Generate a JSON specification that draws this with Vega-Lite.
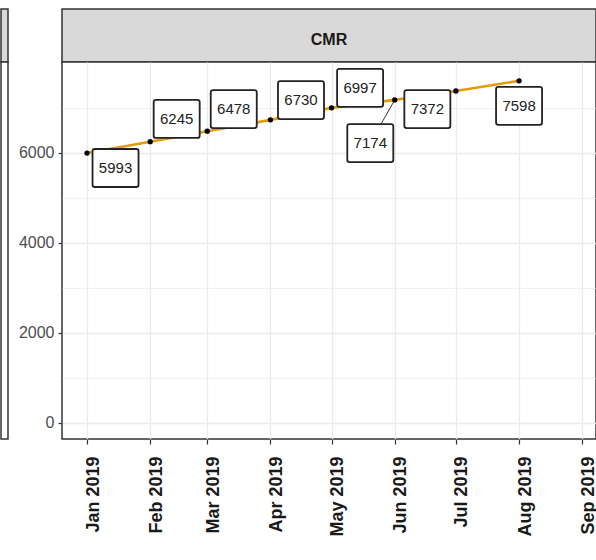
{
  "$schema": "https://vega.github.io/schema/vega-lite/v6.json",
  "padding": {"left": 0, "top": 8, "right": 0, "bottom": 0},
  "config": {
    "font": "Liberation Sans",
    "view": {"stroke": "#333333", "strokeWidth": 1.5},
    "axis": {"domain": false, "tickColor": "#333333"}
  },
  "datasets": {
    "cmr": [
      {"month": "2019-01-01", "value": 5993, "label_date": "2019-01-15", "label_value": 5660},
      {"month": "2019-02-01", "value": 6245, "label_date": "2019-02-14", "label_value": 6750},
      {"month": "2019-03-01", "value": 6478, "label_date": "2019-03-14", "label_value": 6970},
      {"month": "2019-04-01", "value": 6730, "label_date": "2019-04-16", "label_value": 7170},
      {"month": "2019-05-01", "value": 6997, "label_date": "2019-05-15", "label_value": 7440},
      {"month": "2019-06-01", "value": 7174, "label_date": "2019-05-20", "label_value": 6215},
      {"month": "2019-07-01", "value": 7372, "label_date": "2019-06-17", "label_value": 6970},
      {"month": "2019-08-01", "value": 7598, "label_date": "2019-08-01", "label_value": 7040}
    ],
    "strip": [{"panel": "CMR"}],
    "other": [{"panel": "other"}]
  },
  "bounds": "flush",
  "columns": 2,
  "spacing": {"row": 0, "column": 54},
  "concat": [
    {
      "width": 7, "height": 53,
      "data": {"name": "other"},
      "view": {"fill": "#d9d9d9", "stroke": "#333333", "strokeWidth": 1.5},
      "mark": {"type": "point", "opacity": 0},
      "encoding": {}
    },
    {
      "width": 534, "height": 53,
      "data": {"name": "strip"},
      "view": {"fill": "#d9d9d9", "stroke": "#333333", "strokeWidth": 1.5},
      "mark": {"type": "text", "fontSize": 16, "fontWeight": "bold", "color": "#1a1a1a", "dy": 4},
      "encoding": {"text": {"field": "panel", "type": "nominal"}}
    },
    {
      "width": 7, "height": 377,
      "data": {"name": "other"},
      "view": {"fill": "#ffffff", "stroke": "#333333", "strokeWidth": 1.5},
      "mark": {"type": "point", "opacity": 0},
      "encoding": {}
    },
    {
      "width": 534, "height": 377,
      "data": {"name": "cmr"},
      "view": {"fill": "#ffffff", "stroke": "#333333", "strokeWidth": 1.5},
      "layer": [
        {
          "mark": {"type": "line", "color": "#E09B0E", "strokeWidth": 2.6},
          "encoding": {
            "x": {
              "field": "month", "type": "temporal", "title": null,
              "scale": {"type": "utc", "domain": [
                {"year": 2018, "month": 12, "date": 19, "hours": 17, "minutes": 30, "utc": true},
                {"year": 2019, "month": 9, "date": 7, "hours": 18, "utc": true}
              ]},
              "axis": {
                "values": [
                  {"year": 2019, "month": 1, "date": 1, "utc": true},
                  {"year": 2019, "month": 1, "date": 16, "hours": 12, "utc": true},
                  {"year": 2019, "month": 2, "date": 1, "utc": true},
                  {"year": 2019, "month": 2, "date": 15, "utc": true},
                  {"year": 2019, "month": 3, "date": 1, "utc": true},
                  {"year": 2019, "month": 3, "date": 16, "hours": 12, "utc": true},
                  {"year": 2019, "month": 4, "date": 1, "utc": true},
                  {"year": 2019, "month": 4, "date": 16, "utc": true},
                  {"year": 2019, "month": 5, "date": 1, "utc": true},
                  {"year": 2019, "month": 5, "date": 16, "hours": 12, "utc": true},
                  {"year": 2019, "month": 6, "date": 1, "utc": true},
                  {"year": 2019, "month": 6, "date": 16, "utc": true},
                  {"year": 2019, "month": 7, "date": 1, "utc": true},
                  {"year": 2019, "month": 7, "date": 16, "hours": 12, "utc": true},
                  {"year": 2019, "month": 8, "date": 1, "utc": true},
                  {"year": 2019, "month": 8, "date": 16, "hours": 12, "utc": true},
                  {"year": 2019, "month": 9, "date": 1, "utc": true}
                ],
                "labelExpr": "utcdate(datum.value) === 1 ? utcFormat(datum.value, '%b %Y') : ''",
                "labelAngle": 270,
                "labelAlign": "right",
                "labelBaseline": "middle",
                "labelOffset": 6,
                "labelPadding": 12,
                "labelFontSize": 18,
                "labelFontWeight": "bold",
                "labelColor": "#1a1a1a",
                "labelOverlap": false,
                "labelBound": false,
                "labelFlush": false,
                "tickSize": 5,
                "tickWidth": 1.2,
                "tickOpacity": {"condition": {"test": "utcdate(datum.value) === 1", "value": 1}, "value": 0},
                "gridColor": "#ebebeb",
                "gridWidth": {"condition": {"test": "utcdate(datum.value) === 1", "value": 1.3}, "value": 0.7}
              }
            },
            "y": {
              "field": "value", "type": "quantitative", "title": null,
              "scale": {"domain": [-362, 8016], "nice": false, "zero": false},
              "axis": {
                "values": [0, 1000, 2000, 3000, 4000, 5000, 6000, 7000],
                "format": "d",
                "labelExpr": "datum.value % 2000 === 0 ? datum.label : ''",
                "labelFontSize": 16,
                "labelColor": "#4d4d4d",
                "labelPadding": 4,
                "labelOverlap": false,
                "labelBound": false,
                "tickSize": 4,
                "tickWidth": 1.2,
                "tickOpacity": {"condition": {"test": "datum.value % 2000 === 0", "value": 1}, "value": 0},
                "gridColor": "#ebebeb",
                "gridWidth": {"condition": {"test": "datum.value % 2000 === 0", "value": 1.3}, "value": 0.7}
              }
            }
          }
        },
        {
          "transform": [{"filter": "abs(datum.label_value - datum.value) > 800"}],
          "mark": {"type": "rule", "color": "#333333", "strokeWidth": 1},
          "encoding": {
            "x": {"field": "month", "type": "temporal", "title": null},
            "y": {"field": "value", "type": "quantitative", "title": null},
            "x2": {"field": "label_date"},
            "y2": {"field": "label_value"}
          }
        },
        {
          "mark": {"type": "point", "filled": true, "color": "#000000", "size": 28, "opacity": 1},
          "encoding": {
            "x": {"field": "month", "type": "temporal", "title": null},
            "y": {"field": "value", "type": "quantitative", "title": null}
          }
        },
        {
          "mark": {
            "type": "point",
            "shape": "M-0.9,-0.826 L0.9,-0.826 Q1,-0.826 1,-0.726 L1,0.726 Q1,0.826 0.9,0.826 L-0.9,0.826 Q-1,0.826 -1,0.726 L-1,-0.726 Q-1,-0.826 -0.9,-0.826 Z",
            "size": 2116,
            "filled": true,
            "fill": "#ffffff",
            "fillOpacity": 1,
            "opacity": 1,
            "stroke": "#222222",
            "strokeWidth": 1.8
          },
          "encoding": {
            "x": {"field": "label_date", "type": "temporal", "title": null},
            "y": {"field": "label_value", "type": "quantitative", "title": null}
          }
        },
        {
          "mark": {"type": "text", "fontSize": 15, "color": "#222222", "baseline": "middle", "align": "center"},
          "encoding": {
            "x": {"field": "label_date", "type": "temporal", "title": null},
            "y": {"field": "label_value", "type": "quantitative", "title": null},
            "text": {"field": "value", "type": "quantitative", "format": "d"}
          }
        }
      ]
    }
  ]
}
